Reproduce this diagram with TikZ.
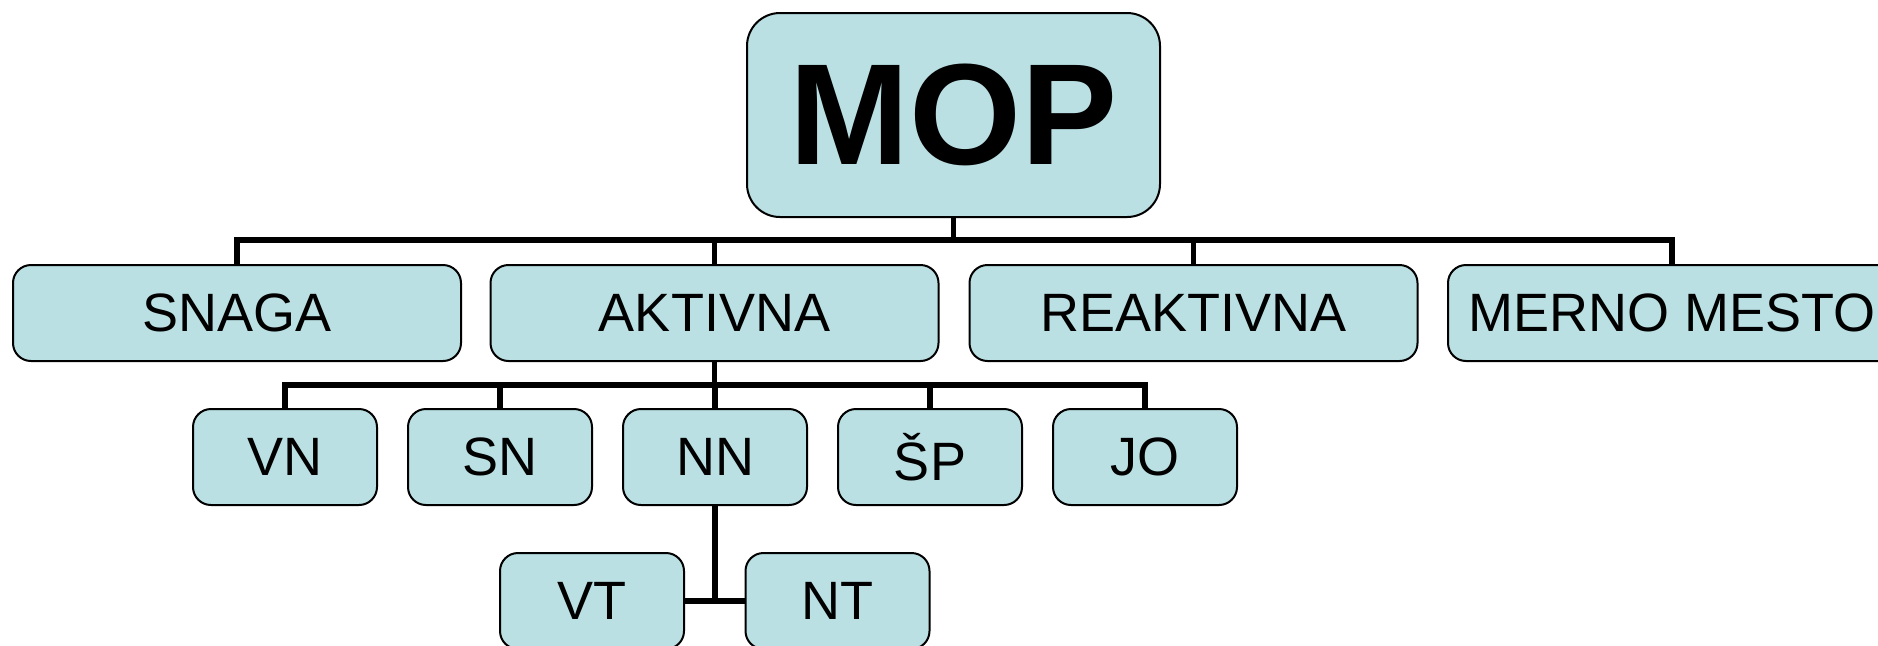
\documentclass[tikz,border=0pt]{standalone}
\usepackage{fontspec}
\setmainfont{Liberation Sans}
\definecolor{boxfill}{RGB}{186,224,227}
\tikzset{
  orgbox/.style={draw=black, line width=1pt, fill=boxfill, rounded corners=9pt, inner sep=0pt,
    minimum height=48pt, font=\fontsize{27}{30}\selectfont},
  widebox/.style={orgbox, minimum width=224pt},
  smallbox/.style={orgbox, minimum width=92pt},
  topbox/.style={draw=black, line width=1pt, fill=boxfill, rounded corners=16.5pt, inner sep=0pt,
    minimum width=206.5pt, minimum height=102pt, font=\fontsize{72}{80}\selectfont\bfseries},
  conn/.style={draw=black, line width=2.8pt, line join=miter}
}
\begin{document}
\begin{tikzpicture}[x=0.5pt,y=-0.5pt]
\useasboundingbox (0,0) rectangle (1878,645);
\clip (0,0) rectangle (1878,645);
\coordinate (bus1) at (953.5,240);
\coordinate (bus2) at (715,385);
% nodes
\node[topbox] (mop) at (953.5,115) {MOP};
\node[widebox] (snaga) at (237,313) {SNAGA};
\node[widebox] (aktivna) at (714.5,313) {AKTIVNA};
\node[widebox] (reaktivna) at (1193.5,313) {REAKTIVNA};
\node[widebox] (merno) at (1672,313) {MERNO MESTO};
\node[smallbox] (vn) at (285,457) {VN};
\node[smallbox] (sn) at (500,457) {SN};
\node[smallbox] (nn) at (715,457) {NN};
\node[smallbox] (sp) at (930,457) {ŠP};
\node[smallbox] (jo) at (1145,457) {JO};
\node[smallbox] (vt) at (592,601) {VT};
\node[smallbox] (nt) at (837.5,601) {NT};
% connectors
\draw[conn] (mop.south) -- (mop.south |- bus1);
\draw[conn] (snaga.north) |- (merno.north |- bus1) -- (merno.north);
\draw[conn] (aktivna.north) -- (aktivna.north |- bus1);
\draw[conn] (reaktivna.north) -- (reaktivna.north |- bus1);
\draw[conn] (aktivna.south) -- (aktivna.south |- bus2);
\draw[conn] (vn.north) |- (jo.north |- bus2) -- (jo.north);
\draw[conn] (sn.north) -- (sn.north |- bus2);
\draw[conn] (nn.north) -- (nn.north |- bus2);
\draw[conn] (sp.north) -- (sp.north |- bus2);
\draw[conn] (nn.south) -- (nn.south |- vt.east);
\draw[conn] (vt.east) -- (nt.west);
\end{tikzpicture}
\end{document}
